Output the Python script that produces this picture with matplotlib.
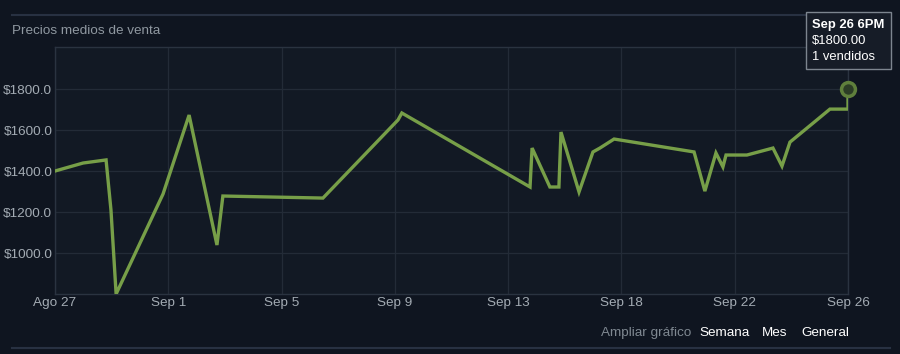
import matplotlib
matplotlib.use('Agg')
import matplotlib.pyplot as plt
import numpy as np

plt.rcParams['font.family'] = ['Liberation Sans', 'DejaVu Sans']

# days since Ago 27 00:00, median price per point
dias = [0.0, 1.09, 1.98, 2.17, 2.37, 4.19, 5.20, 6.28, 6.51, 10.39, 13.30, 13.45,
        18.42, 18.50, 19.19, 19.54, 19.62, 20.32, 20.86, 21.13, 21.68, 24.78, 25.20,
        25.63, 25.90, 26.02, 26.83, 27.84, 28.19, 28.50, 29.59, 30.05, 30.75, 30.75]
precios = [1400, 1439, 1454, 1210, 800, 1288, 1673, 1039, 1278, 1268, 1649, 1683,
           1322, 1512, 1322, 1322, 1590, 1298, 1493, 1512, 1556, 1493, 1302,
           1488, 1420, 1478, 1478, 1512, 1424, 1541, 1654, 1702, 1702, 1800]
etiquetas_x = ['Ago 27', 'Sep 1', 'Sep 5', 'Sep 9', 'Sep 13', 'Sep 18', 'Sep 22', 'Sep 26']
ticks_y = [1000, 1200, 1400, 1600, 1800]

bg = '#0f1520'
grid = '#232b37'
txt = '#8f98a0'
verde = '#779f48'

W, H = 900, 354
fig = plt.figure(figsize=(9, 3.54), dpi=100)
fig.patch.set_facecolor(bg)

def fx(px):
    return px / W

def fy(py):
    return 1 - py / H

ax = fig.add_axes([fx(55), fy(294), 793/W, 247/H])
ax.set_facecolor('#121924')
ax.plot(dias, precios, color=verde, lw=2.4, solid_joinstyle='miter', zorder=3)
ax.plot(dias[-1], precios[-1], 'o', ms=10, mfc='#2c3d26', mec='#5f7f3c', mew=2.5, zorder=4, clip_on=False)

ax.set_xlim(0, 30.75)
ax.set_ylim(800, 2005)
ax.set_xticks(np.linspace(0, 30.75, len(etiquetas_x)))
ax.set_xticklabels(etiquetas_x)
ax.set_yticks(ticks_y)
ax.set_yticklabels(['$%.1f' % v for v in ticks_y])
ax.tick_params(colors='#a3abb3', labelsize=9.7, length=0, pad=2)
ax.grid(True, color=grid, lw=0.9)
for s in ax.spines.values():
    s.set_color('#2a3340')
    s.set_linewidth(1)

fig.text(fx(12), fy(31), 'Precios medios de venta', color=txt, fontsize=9.7, va='center')

# top and bottom separators
fig.add_artist(plt.Line2D([fx(12), fx(890)], [fy(15), fy(15)], color='#283142', lw=1.5))
fig.add_artist(plt.Line2D([fx(12), fx(890)], [fy(348), fy(348)], color='#283142', lw=1.5))

# tooltip
fig.add_artist(plt.Rectangle((fx(806), fy(69)), 85/W, 57/H, transform=fig.transFigure,
                             fc='#161c27', ec='#7d858f', lw=1, zorder=5))
fig.text(fx(812), fy(25), 'Sep 26 6PM', color='white', fontsize=9.4, fontweight='bold', va='center', zorder=6)
fig.text(fx(812), fy(41), '$1800.00', color='white', fontsize=9.4, va='center', zorder=6)
fig.text(fx(812), fy(57), '1 vendidos', color='white', fontsize=9.4, va='center', zorder=6)

# zoom links
fig.text(fx(601), fy(333), 'Ampliar gráfico', color='#7f8891', fontsize=9.7, va='center')
fig.text(fx(699), fy(333), 'Semana', color='white', fontsize=9.7, va='center')
fig.text(fx(762), fy(333), 'Mes', color='white', fontsize=9.7, va='center')
fig.text(fx(801), fy(333), 'General', color='white', fontsize=9.7, va='center')

fig.savefig('out.png', dpi=100, facecolor=bg)
